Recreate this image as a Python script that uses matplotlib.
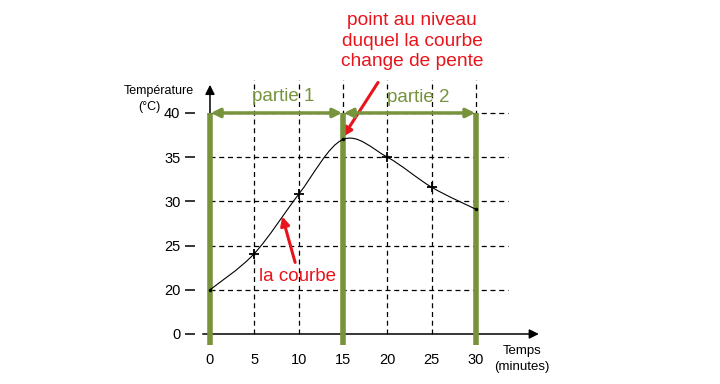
import numpy as np
import matplotlib.pyplot as plt
from matplotlib.path import Path
from matplotlib.patches import PathPatch

plt.rcParams['font.family'] = ['Liberation Sans', 'DejaVu Sans']

# donnees
temps = [0, 5, 10, 15, 20, 25, 30]
temperature = [20, 24.1, 30.8, 37.0, 35.0, 31.6, 29.1]
x_ticks = [0, 5, 10, 15, 20, 25, 30]
y_ticks = [15, 20, 25, 30, 35, 40]          # axe coupe : 15 porte le label "0"
y_labels = ["0", "20", "25", "30", "35", "40"]

green = "#77933C"
red = "#E8141B"

fig = plt.figure(figsize=(7.2, 3.84), dpi=100)
ax = fig.add_axes([195 / 720, 34 / 384, 350 / 720, 280 / 384])
ax.set_xlim(-1.69, 37.78)
ax.set_ylim(13.19, 44.86)
for s in ax.spines.values():
    s.set_visible(False)

# grille pointillee
for t in y_ticks[1:]:
    ax.plot([0, 33.6], [t, t], color="black", lw=0.9, ls=(0, (4, 3)), zorder=1)
for x in x_ticks[1:]:
    ax.plot([x, x], [15, 43.7], color="black", lw=0.9, ls=(0, (4, 3)), zorder=1)

# axes avec fleches
ax.annotate("", xy=(37.4, 15), xytext=(-1.13, 15),
            arrowprops=dict(arrowstyle="-|>", color="black", lw=1.1, mutation_scale=14), zorder=3)
ax.annotate("", xy=(0, 43.5), xytext=(0, 15),
            arrowprops=dict(arrowstyle="-|>", color="black", lw=1.1, mutation_scale=14), zorder=3)

ax.set_xticks(x_ticks)
ax.set_xticklabels([str(v) for v in x_ticks])
ax.set_yticks(y_ticks)
ax.set_yticklabels(y_labels)
ax.tick_params(axis="x", length=0, pad=2, labelsize=10.5)
ax.tick_params(axis="y", length=7.5, width=1.1, pad=3, labelsize=10.5)

# traits verts verticaux
for x in [0, 15, 30]:
    ax.plot([x, x], [13.76, 40], color=green, lw=4, zorder=4, solid_capstyle="butt")

# fleches doubles vertes
for a, b in [(0, 15), (15, 30)]:
    ax.annotate("", xy=(b - 0.1, 40), xytext=(a + 0.1, 40),
                arrowprops=dict(arrowstyle="<|-|>", color=green, lw=2.5, mutation_scale=13,
                                shrinkA=0, shrinkB=0), zorder=4)
ax.text(8.23, 41.9, "partie 1", color=green, fontsize=13.5, ha="center", va="center")
ax.text(23.46, 41.8, "partie 2", color=green, fontsize=13.5, ha="center", va="center")

# courbe lissee (Catmull-Rom)
P = np.column_stack([temps, temperature])
ext = np.vstack([P[0], P, P[-1]])
verts = [tuple(P[0])]
codes = [Path.MOVETO]
for i in range(1, len(ext) - 2):
    c1 = ext[i] + (ext[i + 1] - ext[i - 1]) / 6
    c2 = ext[i + 1] - (ext[i + 2] - ext[i]) / 6
    verts += [tuple(c1), tuple(c2), tuple(ext[i + 1])]
    codes += [Path.CURVE4] * 3
ax.add_patch(PathPatch(Path(verts, codes), fill=False, color="black", lw=0.8, zorder=5))

plus = [1, 2, 4, 5]
ax.plot([temps[i] for i in plus], [temperature[i] for i in plus], "k+", ms=7, mew=1.3, zorder=6)
dots = [0, 3, 6]
ax.plot([temps[i] for i in dots], [temperature[i] for i in dots], "ko", ms=1.5, zorder=6)

# annotations rouges
ax.text(9.92, 21.45, "la courbe", color=red, fontsize=13.5, ha="center", va="center")
ax.annotate("", xy=(8.15, 28.3), xytext=(9.6, 23.1),
            arrowprops=dict(arrowstyle="-|>", color=red, lw=2.2, mutation_scale=13,
                            shrinkA=0, shrinkB=0))
fig.text(412 / 720, 1 - 41 / 384, "point au niveau\nduquel la courbe\nchange de pente",
         color=red, fontsize=13.8, ha="center", va="center", linespacing=1.3)
ax.annotate("", xy=(15.0, 37.3), xytext=(18.95, 43.45),
            arrowprops=dict(arrowstyle="-|>", color=red, lw=2.2, mutation_scale=13,
                            shrinkA=0, shrinkB=0),
            annotation_clip=False)

# titres des axes
fig.text(159 / 720, 1 - 91 / 384, "Température", fontsize=9, ha="center", va="center")
fig.text(149 / 720, 1 - 107 / 384, "(°C)", fontsize=9, ha="center", va="center")
fig.text(522 / 720, 1 - 351 / 384, "Temps", fontsize=9.5, ha="center", va="center")
fig.text(522 / 720, 1 - 367 / 384, "(minutes)", fontsize=9.5, ha="center", va="center")

fig.savefig("out.png", dpi=100)
